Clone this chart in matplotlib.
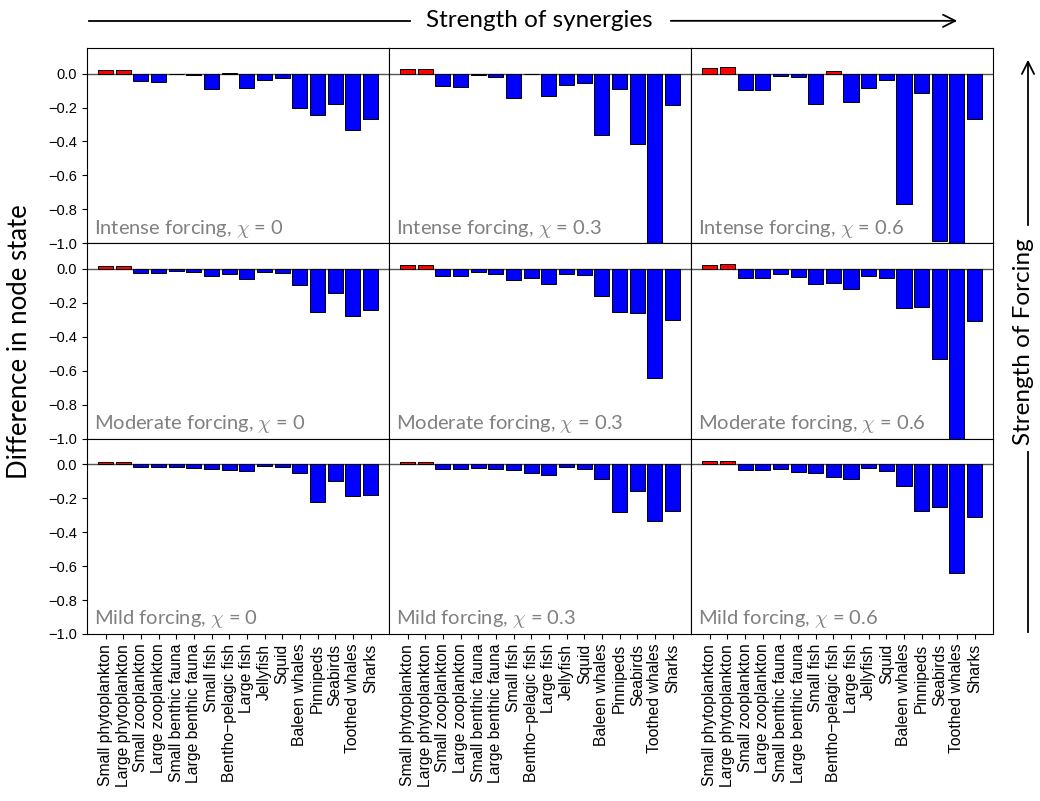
import numpy as np
import matplotlib.pyplot as plt

species = ["Small phytoplankton", "Large phytoplankton", "Small zooplankton",
           "Large zooplankton", "Small benthic fauna", "Large benthic fauna",
           "Small fish", "Bentho\u2212pelagic fish", "Large fish", "Jellyfish",
           "Squid", "Baleen whales", "Pinnipeds", "Seabirds", "Toothed whales",
           "Sharks"]

forcing = ["Intense forcing", "Moderate forcing", "Mild forcing"]
chi = ["0", "0.3", "0.6"]

# difference in node state, one list per (forcing, chi) run
intense_00 = [0.020, 0.022, -0.045, -0.049, -0.004, -0.008, -0.092, 0.006,
              -0.085, -0.039, -0.028, -0.200, -0.244, -0.181, -0.330, -0.266]
intense_03 = [0.026, 0.028, -0.075, -0.077, -0.010, -0.022, -0.144, -0.005,
              -0.134, -0.067, -0.057, -0.364, -0.089, -0.417, -1.000, -0.187]
intense_06 = [0.033, 0.037, -0.098, -0.096, -0.016, -0.018, -0.181, 0.014,
              -0.167, -0.087, -0.039, -0.767, -0.116, -0.986, -1.000, -0.265]

moderate_00 = [0.014, 0.014, -0.026, -0.026, -0.012, -0.020, -0.043, -0.031,
               -0.057, -0.018, -0.022, -0.096, -0.256, -0.142, -0.277, -0.242]
moderate_03 = [0.020, 0.022, -0.041, -0.041, -0.020, -0.033, -0.065, -0.055,
               -0.087, -0.028, -0.039, -0.159, -0.254, -0.258, -0.643, -0.300]
moderate_06 = [0.024, 0.026, -0.055, -0.055, -0.031, -0.047, -0.087, -0.081,
               -0.120, -0.041, -0.055, -0.230, -0.226, -0.530, -1.000, -0.310]

mild_00 = [0.010, 0.010, -0.018, -0.018, -0.016, -0.022, -0.026, -0.035,
           -0.041, -0.012, -0.018, -0.053, -0.220, -0.098, -0.190, -0.180]
mild_03 = [0.014, 0.014, -0.030, -0.028, -0.024, -0.031, -0.037, -0.053,
           -0.061, -0.016, -0.026, -0.089, -0.280, -0.160, -0.335, -0.278]
mild_06 = [0.016, 0.016, -0.037, -0.037, -0.030, -0.045, -0.053, -0.077,
           -0.085, -0.024, -0.041, -0.126, -0.276, -0.250, -0.638, -0.310]

runs = [[intense_00, intense_03, intense_06],
        [moderate_00, moderate_03, moderate_06],
        [mild_00, mild_03, mild_06]]

fig, axes = plt.subplots(3, 3, figsize=(10.4, 8.01), dpi=100, sharex=True, sharey=True)
fig.subplots_adjust(left=0.0837, right=0.955, top=0.940, bottom=0.2085,
                    wspace=0, hspace=0)

x = np.arange(len(species))
for r in range(3):
    for c in range(3):
        ax = axes[r, c]
        vals = np.array(runs[r][c])
        colors = np.where(vals > 0, "red", "blue")
        ax.axhline(0, color="#555555", lw=1, zorder=0)
        ax.bar(x, vals, width=0.85, color=colors, edgecolor="black", linewidth=0.7, zorder=2)
        ax.text(0.023, 0.05, forcing[r] + ", $\\chi$ = " + chi[c], transform=ax.transAxes,
                color="gray", fontsize=14.5, family="Lato", math_fontfamily="cm",
                va="baseline", ha="left")
        if c > 0:
            ax.tick_params(axis="y", length=0)
        if r < 2:
            ax.tick_params(axis="x", length=0)

ax = axes[0, 0]
ax.set_ylim(-1.0, 0.15)
ax.set_yticks([-1.0, -0.8, -0.6, -0.4, -0.2, 0.0])
ax.set_xlim(-1.05, 16.05)
ax.set_xticks(x)
for a in axes[:, 0]:
    for lab in a.get_yticklabels():
        lab.set_family("Liberation Sans")
        lab.set_fontsize(10.5)
for a in axes[2, :]:
    a.set_xticks(x)
    a.set_xticklabels(species, rotation=90, family="Liberation Sans", fontsize=11.3)

fig.text(0.019, 0.574, "Difference in node state", rotation=90, ha="center", va="center",
         fontsize=18.5, family="Lato")

# axis arrows for synergy and forcing strength
fig.text(0.519, 0.974, "Strength of synergies", ha="center", va="center",
         fontsize=17.5, family="Lato")
fig.add_artist(plt.Line2D([89 / 1040, 410 / 1040], [0.974, 0.974], color="black", lw=1.3))
plt.annotate("", xy=(960 / 1040, 0.974), xytext=(668 / 1040, 0.974), xycoords="figure fraction",
             arrowprops=dict(arrowstyle="->", lw=1.3, color="black", mutation_scale=22))

fig.text(1024 / 1040, 0.574, "Strength of Forcing", rotation=90, ha="center", va="center",
         fontsize=17.5, family="Lato")
fig.add_artist(plt.Line2D([1028 / 1040, 1028 / 1040], [1 - 632 / 801, 1 - 452 / 801],
                          color="black", lw=1.3))
plt.annotate("", xy=(1028 / 1040, 1 - 57 / 801), xytext=(1028 / 1040, 1 - 228 / 801),
             xycoords="figure fraction",
             arrowprops=dict(arrowstyle="->", lw=1.3, color="black", mutation_scale=22))

fig.savefig("out.png", dpi=100)
